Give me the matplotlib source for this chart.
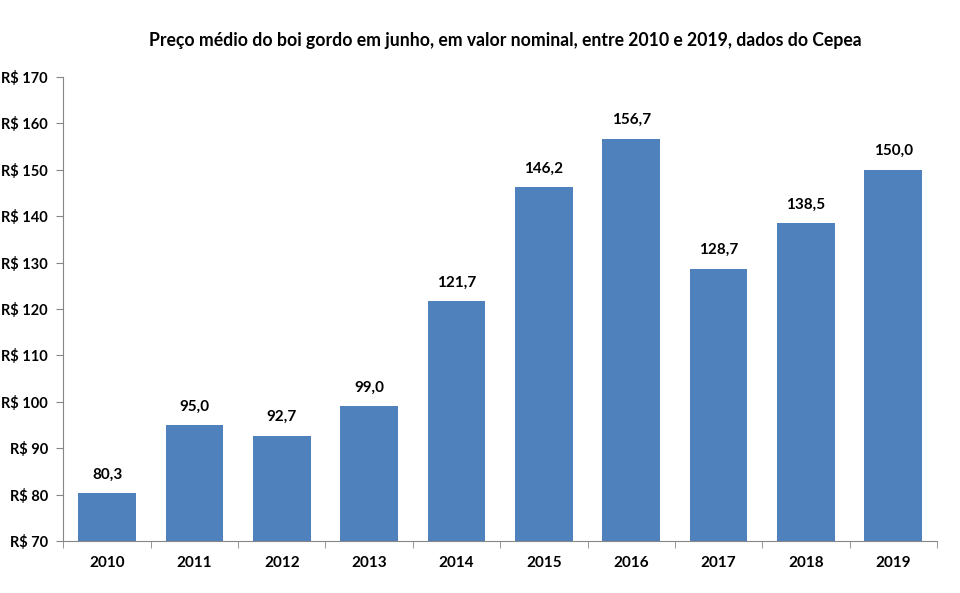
import matplotlib
matplotlib.use("Agg")
import matplotlib.pyplot as plt
from matplotlib.ticker import FixedLocator

anos = ["2010", "2011", "2012", "2013", "2014", "2015", "2016", "2017", "2018", "2019"]
precos = [80.3, 95.0, 92.7, 99.0, 121.7, 146.2, 156.7, 128.7, 138.5, 150.0]
yticks = [70, 80, 90, 100, 110, 120, 130, 140, 150, 160, 170]

plt.rcParams['font.family'] = ['Lato', 'DejaVu Sans']
plt.rcParams['font.weight'] = 'bold'

fig = plt.figure(figsize=(9.6, 5.93), dpi=100)
ax = fig.add_axes([0.066, 0.0877, 0.91, 0.7823])

x = list(range(len(anos)))
ax.bar(x, [p - 70 for p in precos], bottom=70, width=0.66, color="#4F81BD")

for xi, p in zip(x, precos):
    ax.text(xi, p + 2.5, f"{p:.1f}".replace(".", ","), ha="center", va="bottom",
            fontsize=11, fontweight="bold")

ax.set_xlim(-0.5, len(anos) - 0.5)
ax.set_ylim(70, 170)
ax.set_yticks(yticks)
ax.set_yticklabels([f"R$ {v}" for v in yticks], fontsize=10.5, fontweight="bold")
ax.set_xticks(x)
ax.set_xticklabels(anos, fontsize=11, fontweight="bold")
ax.tick_params(axis="x", length=0, pad=11)
ax.xaxis.set_minor_locator(FixedLocator([i - 0.5 for i in range(len(anos) + 1)]))
ax.tick_params(axis="x", which="minor", length=5, color="#868686", direction="out")
ax.tick_params(axis="y", length=5, color="#868686", direction="out", pad=6)

for s in ["top", "right"]:
    ax.spines[s].set_visible(False)
for s in ["left", "bottom"]:
    ax.spines[s].set_color("#868686")

fig.text(0.526, 0.932, "Preço médio do boi gordo em junho, em valor nominal, entre 2010 e 2019, dados do Cepea",
         ha="center", va="center", fontsize=12.7, fontweight="bold")

fig.savefig("out.png", dpi=100)
